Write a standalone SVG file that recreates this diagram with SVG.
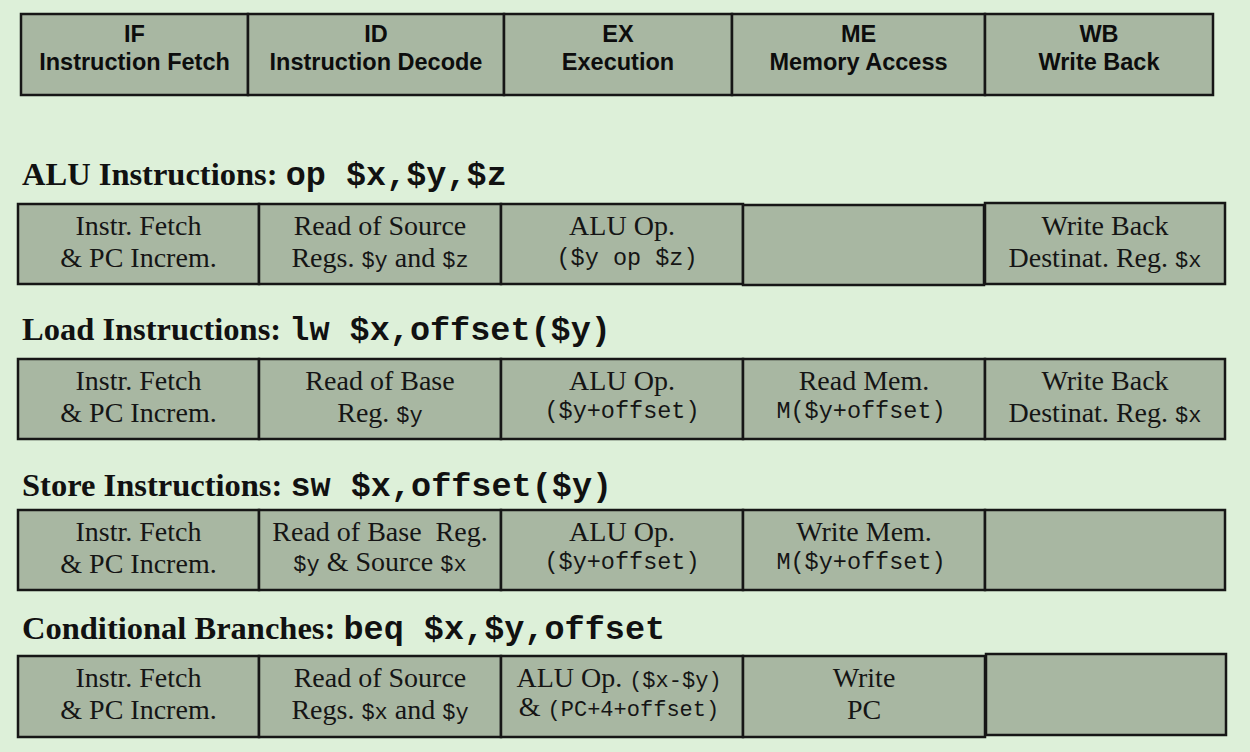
<svg xmlns="http://www.w3.org/2000/svg" width="1250" height="752" viewBox="0 0 1250 752">
<style>
.bg{fill:#ddf0d9}
.box{fill:#a8b7a2;stroke:#161616;stroke-width:2.5}
.hd{font-family:"Liberation Sans",Arial,sans-serif;font-weight:bold;font-size:23.5px;fill:#0d0d0d;text-anchor:middle}
.cell{font-family:"Liberation Serif","Times New Roman",serif;font-size:28px;fill:#151515;text-anchor:middle}
.m{font-family:"Liberation Mono","Courier New",monospace;font-size:22px}
.m2{font-family:"Liberation Mono","Courier New",monospace;font-size:23.5px}
.title{font-family:"Liberation Serif","Times New Roman",serif;font-weight:bold;font-size:32.5px;fill:#111}
.tm{font-family:"Liberation Mono","Courier New",monospace;font-weight:bold;font-size:33.5px}
</style>
<rect class="bg" x="0" y="0" width="1250" height="752"/>

<g id="header">
  <rect class="box" x="21" y="14" width="227" height="81"/>
  <rect class="box" x="248" y="14" width="256" height="81"/>
  <rect class="box" x="504" y="14" width="228" height="81"/>
  <rect class="box" x="732" y="14" width="253" height="81"/>
  <rect class="box" x="985" y="14" width="228" height="81"/>
  <text class="hd" x="134.5" y="42">IF</text>
  <text class="hd" x="134.5" y="70">Instruction Fetch</text>
  <text class="hd" x="376" y="42">ID</text>
  <text class="hd" x="376" y="70">Instruction Decode</text>
  <text class="hd" x="618" y="42">EX</text>
  <text class="hd" x="618" y="70">Execution</text>
  <text class="hd" x="858.5" y="42">ME</text>
  <text class="hd" x="858.5" y="70">Memory Access</text>
  <text class="hd" x="1099" y="42">WB</text>
  <text class="hd" x="1099" y="70">Write Back</text>
</g>

<g id="alu">
  <text class="title" x="22" y="185">ALU Instructions: <tspan class="tm">op $x,$y,$z</tspan></text>
  <rect class="box" x="18" y="204" width="241" height="80"/>
  <rect class="box" x="259" y="204" width="242" height="80"/>
  <rect class="box" x="501" y="204" width="242" height="80"/>
  <rect class="box" x="743" y="205" width="241" height="80"/>
  <rect class="box" x="985" y="203" width="240" height="81"/>
  <text class="cell" x="138.5" y="235">Instr. Fetch</text>
  <text class="cell" x="138.5" y="267">&amp; PC Increm.</text>
  <text class="cell" x="380" y="235">Read of Source</text>
  <text class="cell" x="380" y="267">Regs. <tspan class="m">$y</tspan> and <tspan class="m">$z</tspan></text>
  <text class="cell" x="622" y="235">ALU Op.</text>
  <text class="cell" x="627" y="265"><tspan class="m2">($y op $z)</tspan></text>
  <text class="cell" x="1105" y="235">Write Back</text>
  <text class="cell" x="1105" y="267">Destinat. Reg. <tspan class="m">$x</tspan></text>
</g>

<g id="load">
  <text class="title" x="22" y="340">Load Instructions: <tspan class="tm">lw $x,offset($y)</tspan></text>
  <rect class="box" x="18" y="359" width="241" height="80"/>
  <rect class="box" x="259" y="359" width="242" height="80"/>
  <rect class="box" x="501" y="359" width="242" height="80"/>
  <rect class="box" x="743" y="359" width="242" height="80"/>
  <rect class="box" x="985" y="359" width="240" height="80"/>
  <text class="cell" x="138.5" y="390">Instr. Fetch</text>
  <text class="cell" x="138.5" y="422">&amp; PC Increm.</text>
  <text class="cell" x="380" y="390">Read of Base</text>
  <text class="cell" x="380" y="422">Reg. <tspan class="m">$y</tspan></text>
  <text class="cell" x="622" y="390">ALU Op.</text>
  <text class="cell" x="622" y="418"><tspan class="m2">($y+offset)</tspan></text>
  <text class="cell" x="864" y="390">Read Mem.</text>
  <text class="cell" x="861" y="418"><tspan class="m2">M($y+offset)</tspan></text>
  <text class="cell" x="1105" y="390">Write Back</text>
  <text class="cell" x="1105" y="422">Destinat. Reg. <tspan class="m">$x</tspan></text>
</g>

<g id="store">
  <text class="title" x="22" y="496">Store Instructions: <tspan class="tm">sw $x,offset($y)</tspan></text>
  <rect class="box" x="18" y="510" width="241" height="80"/>
  <rect class="box" x="259" y="510" width="242" height="80"/>
  <rect class="box" x="501" y="510" width="242" height="80"/>
  <rect class="box" x="743" y="510" width="242" height="80"/>
  <rect class="box" x="985" y="510" width="240" height="80"/>
  <text class="cell" x="138.5" y="541">Instr. Fetch</text>
  <text class="cell" x="138.5" y="573">&amp; PC Increm.</text>
  <text class="cell" x="380" y="541" style="white-space:pre">Read of Base  Reg.</text>
  <text class="cell" x="380" y="571"><tspan class="m">$y</tspan> &amp; Source <tspan class="m">$x</tspan></text>
  <text class="cell" x="622" y="541">ALU Op.</text>
  <text class="cell" x="622" y="569"><tspan class="m2">($y+offset)</tspan></text>
  <text class="cell" x="864" y="541">Write Mem.</text>
  <text class="cell" x="861" y="569"><tspan class="m2">M($y+offset)</tspan></text>
</g>

<g id="branch">
  <text class="title" x="22" y="639">Conditional Branches: <tspan class="tm">beq $x,$y,offset</tspan></text>
  <rect class="box" x="18" y="656" width="241" height="81"/>
  <rect class="box" x="259" y="656" width="242" height="81"/>
  <rect class="box" x="501" y="656" width="242" height="81"/>
  <rect class="box" x="743" y="656" width="242" height="81"/>
  <rect class="box" x="986" y="654" width="240" height="81"/>
  <text class="cell" x="138.5" y="687">Instr. Fetch</text>
  <text class="cell" x="138.5" y="719">&amp; PC Increm.</text>
  <text class="cell" x="380" y="687">Read of Source</text>
  <text class="cell" x="380" y="719">Regs. <tspan class="m">$x</tspan> and <tspan class="m">$y</tspan></text>
  <text class="cell" x="619" y="687">ALU Op. <tspan class="m">($x-$y)</tspan></text>
  <text class="cell" x="619" y="716">&amp; <tspan class="m">(PC+4+offset)</tspan></text>
  <text class="cell" x="864" y="687">Write</text>
  <text class="cell" x="864" y="719">PC</text>
</g>
</svg>
